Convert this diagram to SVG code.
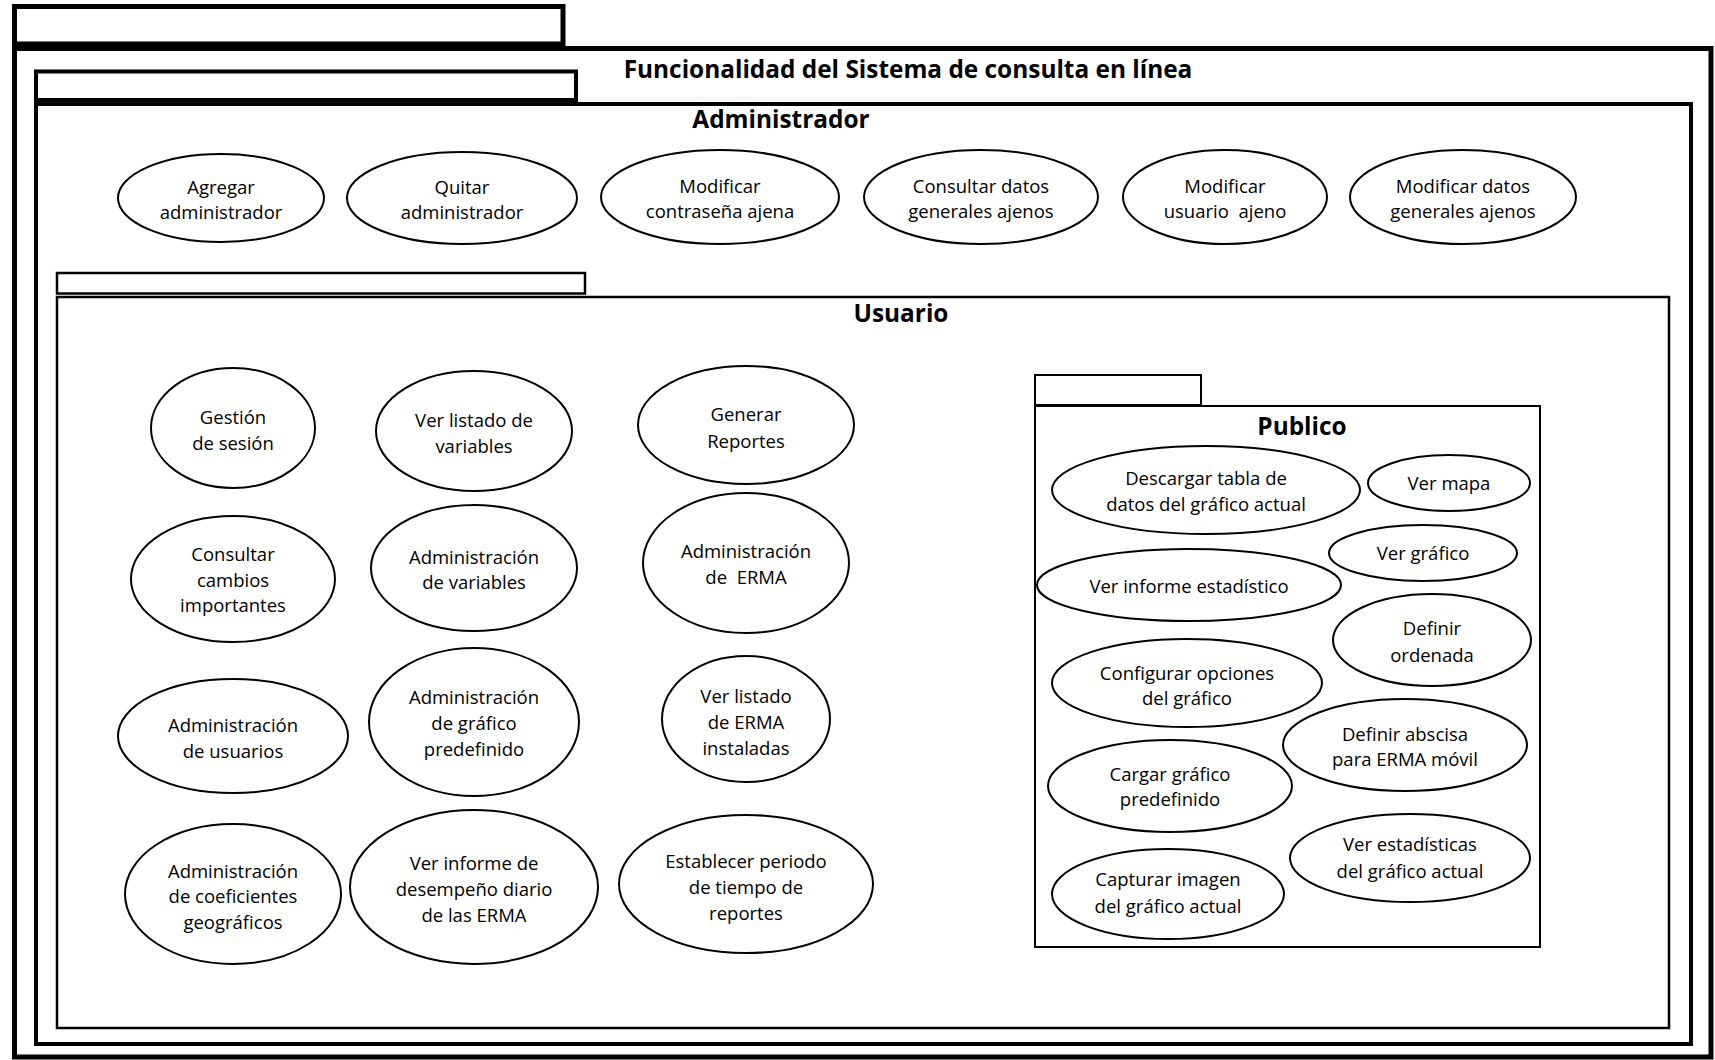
<svg xmlns="http://www.w3.org/2000/svg" width="1715" height="1060" viewBox="0 0 1715 1060">
<style>
.pk{fill:none;stroke:#000}
.uc{fill:#fff;stroke:#000;stroke-width:2}
.t{font-family:"Open Sans","Liberation Sans",sans-serif;font-size:18.5px;text-anchor:middle;dominant-baseline:central;fill:#000;white-space:pre}
.tp{font-size:18.5px}
.h{font-family:"Open Sans","Liberation Sans",sans-serif;font-weight:bold;font-size:24.4px;text-anchor:middle;fill:#000}
</style>
<rect width="1715" height="1060" fill="#fff"/>
<g id="pkg-sistema">
<rect class="pk" x="14.5" y="6.5" width="548.5" height="37.5" stroke-width="5"/>
<rect class="pk" x="14.5" y="48.5" width="1696.5" height="1008.5" stroke-width="5"/>
<text class="h" x="908" y="78">Funcionalidad del Sistema de consulta en línea</text>
</g>
<g id="pkg-administrador">
<rect class="pk" x="36" y="71.5" width="540" height="28.5" stroke-width="4"/>
<rect class="pk" x="36" y="104" width="1655" height="940" stroke-width="4"/>
<text class="h" x="781" y="128">Administrador</text>
</g>
<g id="pkg-usuario">
<rect class="pk" x="57" y="273" width="528" height="20.5" stroke-width="2.5"/>
<rect class="pk" x="57" y="297" width="1612" height="731" stroke-width="2.5"/>
<text class="h" x="901" y="322">Usuario</text>
</g>
<g id="pkg-publico">
<rect class="pk" x="1035" y="375" width="166" height="30" stroke-width="2"/>
<rect class="pk" x="1035" y="406" width="505" height="541" stroke-width="2"/>
<text class="h" x="1302" y="435">Publico</text>
</g>
<g id="connectors"></g>

<g id="uc-agregar-admin"><ellipse class="uc" cx="221" cy="198" rx="103" ry="44"/><text class="t"><tspan x="221" y="186">Agregar</tspan><tspan x="221" y="211">administrador</tspan></text></g>
<g id="uc-quitar-admin"><ellipse class="uc" cx="462" cy="198" rx="115" ry="46"/><text class="t"><tspan x="462" y="186">Quitar</tspan><tspan x="462" y="211">administrador</tspan></text></g>
<g id="uc-modificar-contrasena"><ellipse class="uc" cx="720" cy="197" rx="119" ry="47"/><text class="t"><tspan x="720" y="185">Modificar</tspan><tspan x="720" y="210">contraseña ajena</tspan></text></g>
<g id="uc-consultar-datos"><ellipse class="uc" cx="981" cy="197" rx="117" ry="47"/><text class="t"><tspan x="981" y="185">Consultar datos</tspan><tspan x="981" y="210">generales ajenos</tspan></text></g>
<g id="uc-modificar-usuario"><ellipse class="uc" cx="1225" cy="197" rx="102" ry="47"/><text class="t"><tspan x="1225" y="185">Modificar</tspan><tspan x="1225" y="210">usuario  ajeno</tspan></text></g>
<g id="uc-modificar-datos"><ellipse class="uc" cx="1463" cy="197" rx="113" ry="47"/><text class="t"><tspan x="1463" y="185">Modificar datos</tspan><tspan x="1463" y="210">generales ajenos</tspan></text></g>

<g id="uc-gestion-sesion"><ellipse class="uc" cx="233" cy="428" rx="82" ry="60"/><text class="t"><tspan x="233" y="416">Gestión</tspan><tspan x="233" y="442">de sesión</tspan></text></g>
<g id="uc-consultar-cambios"><ellipse class="uc" cx="233" cy="579" rx="102" ry="63"/><text class="t"><tspan x="233" y="553">Consultar</tspan><tspan x="233" y="579">cambios</tspan><tspan x="233" y="604">importantes</tspan></text></g>
<g id="uc-admin-usuarios"><ellipse class="uc" cx="233" cy="736" rx="115" ry="57"/><text class="t"><tspan x="233" y="724">Administración</tspan><tspan x="233" y="750">de usuarios</tspan></text></g>
<g id="uc-admin-coeficientes"><ellipse class="uc" cx="233" cy="894" rx="108" ry="70"/><text class="t"><tspan x="233" y="870">Administración</tspan><tspan x="233" y="895">de coeficientes</tspan><tspan x="233" y="921">geográficos</tspan></text></g>

<g id="uc-ver-listado-variables"><ellipse class="uc" cx="474" cy="431" rx="98" ry="60"/><text class="t"><tspan x="474" y="419">Ver listado de</tspan><tspan x="474" y="445">variables</tspan></text></g>
<g id="uc-admin-variables"><ellipse class="uc" cx="474" cy="568" rx="103" ry="63"/><text class="t"><tspan x="474" y="556">Administración</tspan><tspan x="474" y="581">de variables</tspan></text></g>
<g id="uc-admin-grafico"><ellipse class="uc" cx="474" cy="722" rx="105" ry="74"/><text class="t"><tspan x="474" y="696">Administración</tspan><tspan x="474" y="722">de gráfico</tspan><tspan x="474" y="748">predefinido</tspan></text></g>
<g id="uc-ver-informe-desempeno"><ellipse class="uc" cx="474" cy="887" rx="124" ry="77"/><text class="t"><tspan x="474" y="862">Ver informe de</tspan><tspan x="474" y="888">desempeño diario</tspan><tspan x="474" y="914">de las ERMA</tspan></text></g>

<g id="uc-generar-reportes"><ellipse class="uc" cx="746" cy="425" rx="108" ry="59"/><text class="t"><tspan x="746" y="413">Generar</tspan><tspan x="746" y="440">Reportes</tspan></text></g>
<g id="uc-admin-erma"><ellipse class="uc" cx="746" cy="563" rx="103" ry="70"/><text class="t"><tspan x="746" y="550">Administración</tspan><tspan x="746" y="576">de  ERMA</tspan></text></g>
<g id="uc-ver-listado-erma"><ellipse class="uc" cx="746" cy="719" rx="84" ry="63"/><text class="t"><tspan x="746" y="695">Ver listado</tspan><tspan x="746" y="721">de ERMA</tspan><tspan x="746" y="747">instaladas</tspan></text></g>
<g id="uc-establecer-periodo"><ellipse class="uc" cx="746" cy="884" rx="127" ry="69"/><text class="t"><tspan x="746" y="860">Establecer periodo</tspan><tspan x="746" y="886">de tiempo de</tspan><tspan x="746" y="912">reportes</tspan></text></g>

<g id="uc-descargar-tabla"><ellipse class="uc" cx="1206" cy="490" rx="154" ry="44"/><text class="t tp"><tspan x="1206" y="477">Descargar tabla de</tspan><tspan x="1206" y="503">datos del gráfico actual</tspan></text></g>
<g id="uc-ver-mapa"><ellipse class="uc" cx="1449" cy="483" rx="81" ry="28"/><text class="t tp"><tspan x="1449" y="482">Ver mapa</tspan></text></g>
<g id="uc-ver-grafico"><ellipse class="uc" cx="1423" cy="553" rx="94" ry="28"/><text class="t tp"><tspan x="1423" y="552">Ver gráfico</tspan></text></g>
<g id="uc-ver-informe-estadistico"><ellipse class="uc" cx="1189" cy="585" rx="152" ry="36"/><text class="t tp"><tspan x="1189" y="585">Ver informe estadístico</tspan></text></g>
<g id="uc-definir-ordenada"><ellipse class="uc" cx="1432" cy="640" rx="99" ry="46"/><text class="t tp"><tspan x="1432" y="627">Definir</tspan><tspan x="1432" y="654">ordenada</tspan></text></g>
<g id="uc-configurar-opciones"><ellipse class="uc" cx="1187" cy="683" rx="135" ry="44"/><text class="t tp"><tspan x="1187" y="672">Configurar opciones</tspan><tspan x="1187" y="697">del gráfico</tspan></text></g>
<g id="uc-definir-abscisa"><ellipse class="uc" cx="1405" cy="745" rx="122" ry="46"/><text class="t tp"><tspan x="1405" y="733">Definir abscisa</tspan><tspan x="1405" y="758">para ERMA móvil</tspan></text></g>
<g id="uc-cargar-grafico"><ellipse class="uc" cx="1170" cy="786" rx="122" ry="46"/><text class="t tp"><tspan x="1170" y="773">Cargar gráfico</tspan><tspan x="1170" y="798">predefinido</tspan></text></g>
<g id="uc-ver-estadisticas"><ellipse class="uc" cx="1410" cy="858" rx="120" ry="44"/><text class="t tp"><tspan x="1410" y="843">Ver estadísticas</tspan><tspan x="1410" y="870">del gráfico actual</tspan></text></g>
<g id="uc-capturar-imagen"><ellipse class="uc" cx="1168" cy="894" rx="116" ry="45"/><text class="t tp"><tspan x="1168" y="878">Capturar imagen</tspan><tspan x="1168" y="905">del gráfico actual</tspan></text></g>
</svg>
